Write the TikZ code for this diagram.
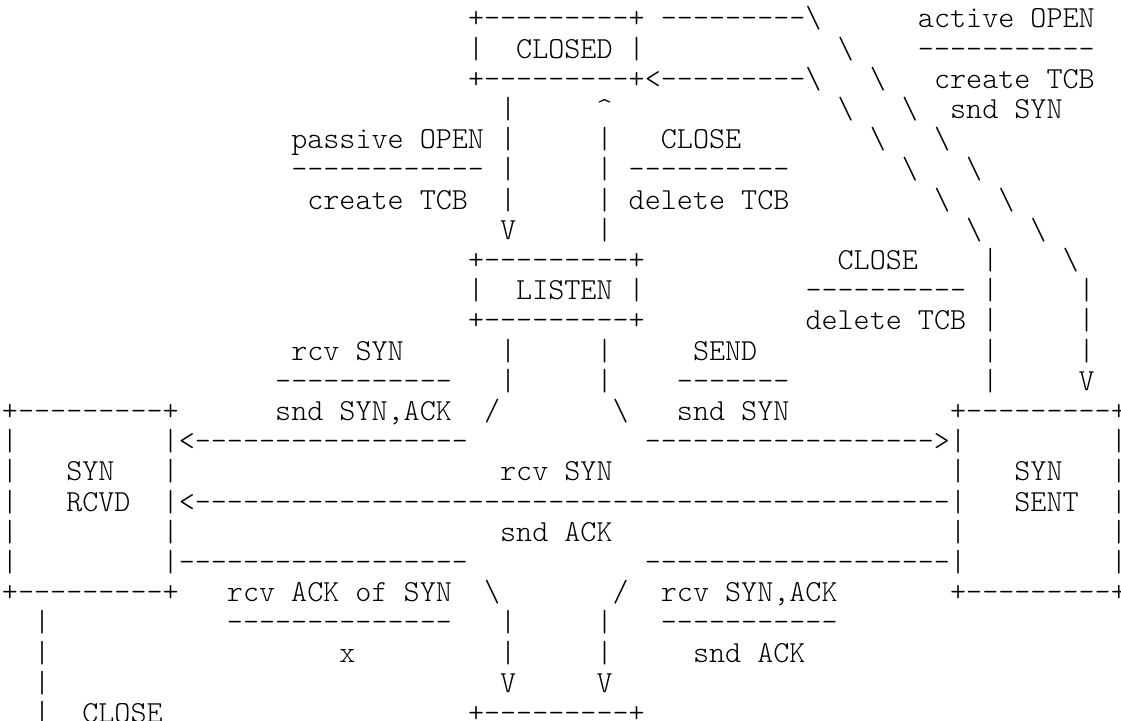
\documentclass[tikz,border=0pt]{standalone}
\usepackage{fontspec}
\setmonofont{lmmonolt10-regular.otf}
\usepackage{tikz}

\begin{document}
\begin{tikzpicture}[x=8.035pt, y=-15.1pt,
	asc/.style={font=\ttfamily\fontsize{15.3}{15.1}\selectfont, anchor=base west, inner sep=0pt, outer sep=0pt}]
	\useasboundingbox (-1pt,13.9pt) rectangle (559.5pt,-346.1pt);

	% CLOSED and active OPEN
	\node[asc] (closedtop) at (29,0) {+---------+};
	\node[asc] (actarr0) at (41,0) {---------\textbackslash};
	\node[asc] (actopen) at (57,0) {active OPEN};
	\node[asc] (closedmid) at (29,1) {|\ \ CLOSED |};
	\node[asc] (actarr1) at (52,1) {\textbackslash};
	\node[asc] (actbar) at (57,1) {-----------};
	\node[asc] (closedbot) at (29,2) {+---------+};
	\node[asc] (clsarr0) at (40,2) {<---------\textbackslash};
	\node[asc] (actarr2) at (54,2) {\textbackslash};
	\node[asc] (actcreate) at (58,2) {create TCB};
	\node[asc] (pasarr0) at (31,3) {|};
	\node[asc] (lsnarr0) at (37,3) {\textasciicircum};
	\node[asc] (clsarr1) at (52,3) {\textbackslash};
	\node[asc] (actarr3) at (56,3) {\textbackslash};
	\node[asc] (actsnd) at (59,3) {snd SYN};

	% passive OPEN and CLOSE
	\node[asc] (pasopen) at (18,4) {passive OPEN};
	\node[asc] (pasarr1) at (31,4) {|};
	\node[asc] (lsnarr1) at (37,4) {|};
	\node[asc] (lsnclose) at (41,4) {CLOSE};
	\node[asc] (clsarr2) at (54,4) {\textbackslash};
	\node[asc] (actarr4) at (58,4) {\textbackslash};
	\node[asc] (pasbar) at (18,5) {------------};
	\node[asc] (pasarr2) at (31,5) {|};
	\node[asc] (lsnarr2) at (37,5) {|};
	\node[asc] (lsnbar) at (39,5) {----------};
	\node[asc] (clsarr3) at (56,5) {\textbackslash};
	\node[asc] (actarr5) at (60,5) {\textbackslash};
	\node[asc] (pascreate) at (19,6) {create TCB};
	\node[asc] (pasarr3) at (31,6) {|};
	\node[asc] (lsnarr3) at (37,6) {|};
	\node[asc] (lsndelete) at (39,6) {delete TCB};
	\node[asc] (clsarr4) at (58,6) {\textbackslash};
	\node[asc] (actarr6) at (62,6) {\textbackslash};
	\node[asc] (pasarr4) at (31,7) {V};
	\node[asc] (lsnarr4) at (37,7) {|};
	\node[asc] (clsarr5) at (60,7) {\textbackslash};
	\node[asc] (actarr7) at (64,7) {\textbackslash};

	% LISTEN
	\node[asc] (listentop) at (29,8) {+---------+};
	\node[asc] (sntclose) at (52,8) {CLOSE};
	\node[asc] (clsarr6) at (61,8) {|};
	\node[asc] (actarr8) at (66,8) {\textbackslash};
	\node[asc] (listenmid) at (29,9) {|\ \ LISTEN |};
	\node[asc] (sntbar) at (50,9) {----------};
	\node[asc] (clsarr7) at (61,9) {|};
	\node[asc] (actarr9) at (67,9) {|};
	\node[asc] (listenbot) at (29,10) {+---------+};
	\node[asc] (sntdelete) at (50,10) {delete TCB};
	\node[asc] (clsarr8) at (61,10) {|};
	\node[asc] (actarr10) at (67,10) {|};
	\node[asc] (rcvsyn) at (18,11) {rcv SYN};
	\node[asc] (rcvarr0) at (31,11) {|};
	\node[asc] (sndarr0) at (37,11) {|};
	\node[asc] (send) at (43,11) {SEND};
	\node[asc] (clsarr9) at (61,11) {|};
	\node[asc] (actarr11) at (67,11) {|};
	\node[asc] (rcvbar) at (17,12) {-----------};
	\node[asc] (rcvarr1) at (31,12) {|};
	\node[asc] (sndarr1) at (37,12) {|};
	\node[asc] (sendbar) at (42,12) {-------};
	\node[asc] (clsarr10) at (61,12) {|};
	\node[asc] (actarr12) at (67,12) {V};

	% SYN RCVD and SYN SENT
	\node[asc] (rcvdtop) at (0,13) {+---------+};
	\node[asc] (sndsynack) at (17,13) {snd SYN,ACK};
	\node[asc] (rcvarr2) at (30,13) {/};
	\node[asc] (sndarr2) at (38,13) {\textbackslash};
	\node[asc] (sendsyn) at (42,13) {snd SYN};
	\node[asc] (senttop) at (59,13) {+---------+};
	\node[asc] (rcvdwall0) at (0,14) {|};
	\node[asc] (rcvarr3) at (10,14) {|<-----------------};
	\node[asc] (sndarr3) at (40,14) {------------------>|};
	\node[asc] (sentwall0) at (69,14) {|};
	\node[asc] (rcvdsyn) at (0,15) {|\ \ \ SYN\ \ \ |};
	\node[asc] (synrcv) at (31,15) {rcv SYN};
	\node[asc] (sentsyn) at (59,15) {|\ \ \ SYN\ \ \ |};
	\node[asc] (rcvdname) at (0,16) {|\ \ \ RCVD\ \ |};
	\node[asc] (synarr) at (11,16) {<-----------------------------------------------};
	\node[asc] (sentname) at (59,16) {|\ \ \ SENT\ \ |};
	\node[asc] (rcvdwall1) at (0,17) {|};
	\node[asc] (rcvdwall2) at (10,17) {|};
	\node[asc] (sndackmid) at (31,17) {snd ACK};
	\node[asc] (sentwall1) at (59,17) {|};
	\node[asc] (sentwall2) at (69,17) {|};
	\node[asc] (rcvdwall3) at (0,18) {|};
	\node[asc] (ackarr0) at (10,18) {|------------------};
	\node[asc] (sackarr0) at (40,18) {-------------------|};
	\node[asc] (sentwall3) at (69,18) {|};
	\node[asc] (rcvdbot) at (0,19) {+---------+};
	\node[asc] (rcvack) at (14,19) {rcv ACK of SYN};
	\node[asc] (ackarr1) at (30,19) {\textbackslash};
	\node[asc] (sackarr1) at (38,19) {/};
	\node[asc] (rcvsynack) at (41,19) {rcv SYN,ACK};
	\node[asc] (sentbot) at (59,19) {+---------+};

	% towards ESTAB
	\node[asc] (clsfin0) at (2,20) {|};
	\node[asc] (ackbar) at (14,20) {--------------};
	\node[asc] (ackarr2) at (31,20) {|};
	\node[asc] (sackarr2) at (37,20) {|};
	\node[asc] (synackbar) at (41,20) {-----------};
	\node[asc] (clsfin1) at (2,21) {|};
	\node[asc] (ackx) at (21,21) {x};
	\node[asc] (ackarr3) at (31,21) {|};
	\node[asc] (sackarr3) at (37,21) {|};
	\node[asc] (sndack) at (43,21) {snd ACK};
	\node[asc] (clsfin2) at (2,22) {|};
	\node[asc] (ackarr4) at (31,22) {V};
	\node[asc] (sackarr4) at (37,22) {V};
	\node[asc] (clsfin3) at (2,23) {|};
	\node[asc] (finclose) at (5,23) {CLOSE};
	\node[asc] (estabtop) at (29,23) {+---------+};
\end{tikzpicture}
\end{document}
